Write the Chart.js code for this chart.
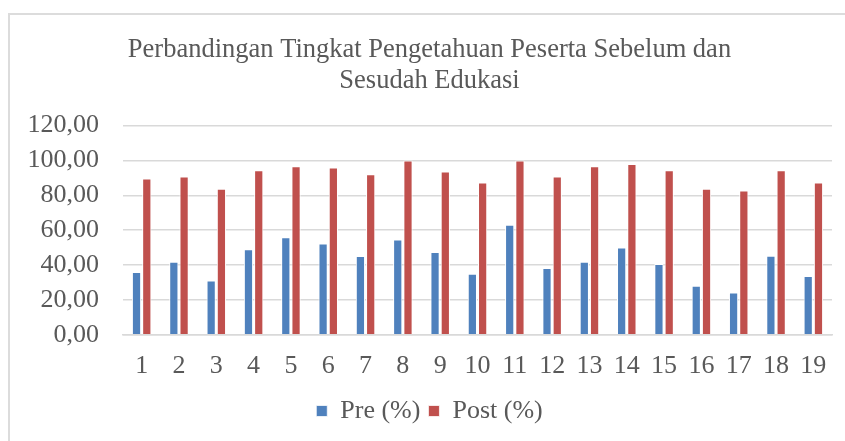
<!DOCTYPE html>
<html>
<head>
<meta charset="utf-8">
<script src="https://cdn.jsdelivr.net/npm/chart.js@4"></script>
<style>
    html, body { margin: 0; padding: 0; background: #fff; overflow: hidden; }
    #wrap { position: relative; width: 845px; height: 441px; overflow: hidden; }
    #frame { position: absolute; left: 8px; top: 13px; width: 850px; height: 450px; border: 2px solid #dcdcdc; box-sizing: border-box; }
    canvas { position: absolute; left: 0; top: 0; }
</style>
</head>
<body>
<div id="wrap">
    <div id="frame"></div>
    <canvas id="chart" width="845" height="441"></canvas>
</div>
<script>
// Data
const categories = ['1', '2', '3', '4', '5', '6', '7', '8', '9', '10', '11', '12', '13', '14', '15', '16', '17', '18', '19'];
const preValues = [36.0, 41.9, 31.2, 49.0, 56.0, 52.3, 45.2, 54.6, 47.5, 35.0, 63.1, 38.3, 41.9, 50.0, 40.6, 28.1, 24.2, 45.4, 33.7];
const postValues = [89.6, 90.8, 83.7, 94.4, 96.7, 96.0, 92.1, 100.0, 93.7, 87.3, 100.0, 90.8, 96.7, 97.9, 94.4, 83.7, 82.7, 94.4, 87.3];
const titleLines = ['Perbandingan Tingkat Pengetahuan Peserta Sebelum dan', 'Sesudah Edukasi'];

const serif = "'Liberation Serif', 'Times New Roman', serif";
const textColor = '#595959';
const gridColor = '#d9d9d9';

const ctx = document.getElementById('chart').getContext('2d');
const chart = new Chart(ctx, {
    type: 'bar',
    data: {
        labels: categories,
        datasets: [{
            label: 'Pre (%)',
            data: preValues,
            backgroundColor: '#4F81BD',
            borderColor: '#ffffff',
            borderWidth: { left: 1, right: 1, top: 1, bottom: 0 },
            categoryPercentage: 0.55,
            barPercentage: 0.9
        }, {
            label: 'Post (%)',
            data: postValues,
            backgroundColor: '#C0504D',
            borderColor: '#ffffff',
            borderWidth: { left: 1, right: 1, top: 1, bottom: 0 },
            categoryPercentage: 0.55,
            barPercentage: 0.9
        }]
    },
    options: {
        responsive: false,
        animation: false,
        layout: {
            // left padding nudges the centred title and legend to the right
            padding: { left: 27, right: 13, top: 18, bottom: 7 }
        },
        plugins: {
            title: {
                display: true,
                text: titleLines,
                color: textColor,
                font: { family: serif, size: 26.5, weight: 'normal', lineHeight: 1.18 },
                padding: { top: 16, bottom: 29 }
            },
            legend: {
                position: 'bottom',
                labels: {
                    color: textColor,
                    font: { family: serif, size: 26 },
                    boxWidth: 11,
                    boxHeight: 11,
                    padding: 8
                }
            },
            tooltip: { enabled: false }
        },
        scales: {
            x: {
                grid: { display: false },
                border: { color: gridColor, width: 1.5 },
                ticks: {
                    color: textColor,
                    font: { family: serif, size: 26 },
                    padding: 8,
                    autoSkip: false,
                    maxRotation: 0
                }
            },
            y: {
                min: 0,
                max: 120,
                grid: { color: gridColor, lineWidth: 1.5, drawTicks: false },
                border: { display: false },
                ticks: {
                    stepSize: 20,
                    autoSkip: false,
                    color: textColor,
                    font: { family: serif, size: 26 },
                    padding: 24,
                    callback: v => v.toFixed(2).replace('.', ',')
                },
                afterFit: scale => { scale.width = 96; }
            }
        }
    }
});
</script>
</body>
</html>
